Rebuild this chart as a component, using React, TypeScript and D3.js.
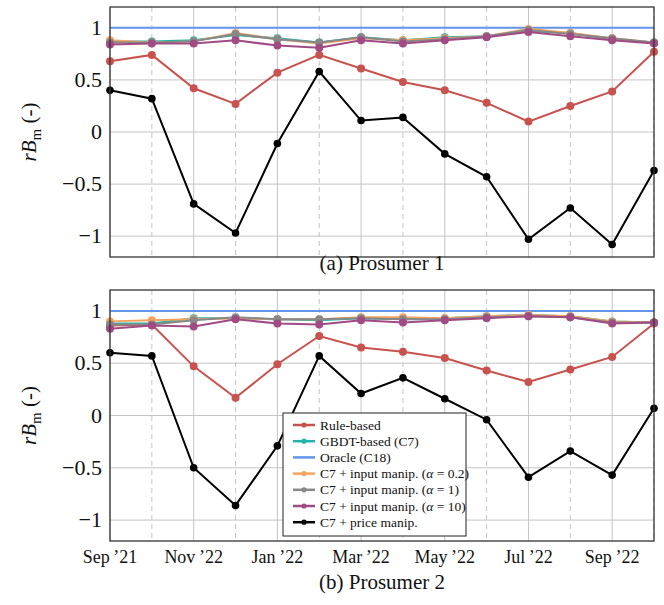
import React from "react";
import * as d3 from "d3";

const months = ["Sep\u2009\u201921","Oct\u2009\u201921","Nov\u2009\u201922","Dec\u2009\u201921","Jan\u2009\u201922","Feb\u2009\u201922","Mar\u2009\u201922","Apr\u2009\u201922","May\u2009\u201922","Jun\u2009\u201922","Jul\u2009\u201922","Aug\u2009\u201922","Sep\u2009\u201922","Oct\u2009\u201922"];
const tickIdx = [0, 2, 4, 6, 8, 10, 12];
const yTicks = [-1, -0.5, 0, 0.5, 1];

const seriesNames = ["Rule-based", "GBDT-based (C7)", "Oracle (C18)", "C7 + input manip. (", "C7 + input manip. (", "C7 + input manip. (", "C7 + price manip."];
const seriesAlpha = [null, null, null, "0.2", "1", "10", null];
const seriesColors = ["#c8524e", "#22b4a8", "#6495ed", "#f4a35e", "#888888", "#a04b84", "#000000"];
const seriesMarkers = [true, true, false, true, true, true, true];

// Prosumer 1
const p1Rule = [0.68, 0.74, 0.42, 0.27, 0.57, 0.74, 0.61, 0.48, 0.40, 0.28, 0.10, 0.25, 0.39, 0.77];
const p1Gbdt = [0.87, 0.87, 0.88, 0.93, 0.90, 0.86, 0.91, 0.88, 0.91, 0.92, 0.97, 0.95, 0.89, 0.86];
const p1Oracle = [1, 1, 1, 1, 1, 1, 1, 1, 1, 1, 1, 1, 1, 1];
const p1Alpha02 = [0.88, 0.86, 0.87, 0.95, 0.89, 0.85, 0.90, 0.88, 0.90, 0.92, 0.99, 0.95, 0.90, 0.86];
const p1Alpha1 = [0.86, 0.86, 0.87, 0.94, 0.89, 0.86, 0.91, 0.87, 0.89, 0.92, 0.98, 0.94, 0.90, 0.86];
const p1Alpha10 = [0.84, 0.85, 0.85, 0.88, 0.83, 0.81, 0.88, 0.85, 0.88, 0.91, 0.96, 0.92, 0.88, 0.85];
const p1Price = [0.40, 0.32, -0.69, -0.97, -0.11, 0.58, 0.11, 0.14, -0.21, -0.43, -1.03, -0.73, -1.08, -0.37];

// Prosumer 2
const p2Rule = [0.86, 0.87, 0.47, 0.17, 0.49, 0.76, 0.65, 0.61, 0.55, 0.43, 0.32, 0.44, 0.56, 0.88];
const p2Gbdt = [0.88, 0.88, 0.93, 0.93, 0.92, 0.91, 0.93, 0.92, 0.93, 0.95, 0.96, 0.95, 0.90, 0.89];
const p2Oracle = [1, 1, 1, 1, 1, 1, 1, 1, 1, 1, 1, 1, 1, 1];
const p2Alpha02 = [0.90, 0.91, 0.92, 0.93, 0.92, 0.92, 0.94, 0.94, 0.93, 0.95, 0.96, 0.95, 0.90, 0.89];
const p2Alpha1 = [0.87, 0.87, 0.91, 0.94, 0.92, 0.92, 0.93, 0.92, 0.92, 0.94, 0.95, 0.94, 0.89, 0.89];
const p2Alpha10 = [0.83, 0.86, 0.85, 0.92, 0.88, 0.87, 0.91, 0.89, 0.91, 0.93, 0.95, 0.94, 0.88, 0.89];
const p2Price = [0.60, 0.57, -0.50, -0.86, -0.29, 0.57, 0.21, 0.36, 0.16, -0.04, -0.59, -0.34, -0.57, 0.07];

const p1 = [p1Rule, p1Gbdt, p1Oracle, p1Alpha02, p1Alpha1, p1Alpha10, p1Price];
const p2 = [p2Rule, p2Gbdt, p2Oracle, p2Alpha02, p2Alpha1, p2Alpha10, p2Price];

const FONT = "'Liberation Serif', serif";
const X0 = 110, X1 = 654;

const x = d3.scaleLinear().domain([0, months.length - 1]).range([X0, X1]);

function Panel({ data, top, bottom, caption, captionY, showX }: any) {
  const y = d3.scaleLinear().domain([-1.2, 1.2]).range([bottom, top]);
  const line = d3.line<number>().x((_, i) => x(i)).y((v) => y(v));
  const mid = (top + bottom) / 2;
  return (
    <g>
      {months.map((_, i) => (
        <line key={"v" + i} x1={x(i)} x2={x(i)} y1={top} y2={bottom}
          stroke="#c4c4c4" strokeWidth={1}
          strokeDasharray={tickIdx.includes(i) ? undefined : "5,4"} />
      ))}
      {yTicks.map((t) => (
        <line key={"h" + t} x1={X0} x2={X1} y1={y(t)} y2={y(t)} stroke="#c4c4c4" strokeWidth={1} />
      ))}
      {data.map((s: number[], k: number) => (
        <g key={k}>
          <path d={line(s) || ""} fill="none" stroke={seriesColors[k]} strokeWidth={2} />
          {seriesMarkers[k] && s.map((v, i) => (
            <circle key={i} cx={x(i)} cy={y(v)} r={k === 6 ? 3.8 : 4} fill={seriesColors[k]} />
          ))}
        </g>
      ))}
      <rect x={X0} y={top} width={X1 - X0} height={bottom - top} fill="none" stroke="#333" strokeWidth={1.3} />
      {yTicks.map((t) => (
        <text key={"yt" + t} x={102} y={y(t) + 7} textAnchor="end" fontFamily={FONT} fontSize={22} fill="#111">
          {t < 0 ? "\u2212" + Math.abs(t) : String(t)}
        </text>
      ))}
      <text transform={`translate(36,${mid}) rotate(-90)`} textAnchor="middle" fontFamily={FONT} fontSize={21} fill="#111">
        <tspan fontStyle="italic">rB</tspan>
        <tspan fontSize={15} dy={5}>m</tspan>
        <tspan dy={-5}> (-)</tspan>
      </text>
      {showX && tickIdx.map((i) => (
        <text key={"xt" + i} x={x(i)} y={563} textAnchor="middle" fontFamily={FONT} fontSize={18} fill="#111">
          {months[i]}
        </text>
      ))}
      <text x={(X0 + X1) / 2} y={captionY} textAnchor="middle" fontFamily={FONT} fontSize={21} fill="#111">
        {caption}
      </text>
    </g>
  );
}

function Legend({ lx, ly }: any) {
  const rowH = 16.2;
  return (
    <g>
      <rect x={lx} y={ly} width={183} height={123} fill="#fff" stroke="#222" strokeWidth={1} />
      {seriesNames.map((n, k) => {
        const cy = ly + 12 + k * rowH;
        return (
          <g key={k}>
            <line x1={lx + 10} x2={lx + 32} y1={cy} y2={cy} stroke={seriesColors[k]} strokeWidth={2.5} />
            {seriesMarkers[k] && <circle cx={lx + 21} cy={cy} r={2.6} fill={seriesColors[k]} />}
            <text x={lx + 37} y={cy + 4.5} fontFamily={FONT} fontSize={13.5} fill="#111">
              {n}
              {seriesAlpha[k] && (
                <>
                  <tspan fontStyle="italic">α</tspan>
                  <tspan>{" = " + seriesAlpha[k] + ")"}</tspan>
                </>
              )}
            </text>
          </g>
        );
      })}
    </g>
  );
}

export default function App() {
  return (
    <svg width={664} height={605} style={{ position: "absolute", left: 0, top: 0, background: "#fff" }}>
      <rect width={664} height={605} fill="#fff" />
      <Panel data={p1} top={7} bottom={257} caption="(a) Prosumer 1" captionY={270} showX={false} />
      <Panel data={p2} top={290} bottom={541} caption="(b) Prosumer 2" captionY={589} showX={true} />
      <Legend lx={283} ly={413} />
    </svg>
  );
}
